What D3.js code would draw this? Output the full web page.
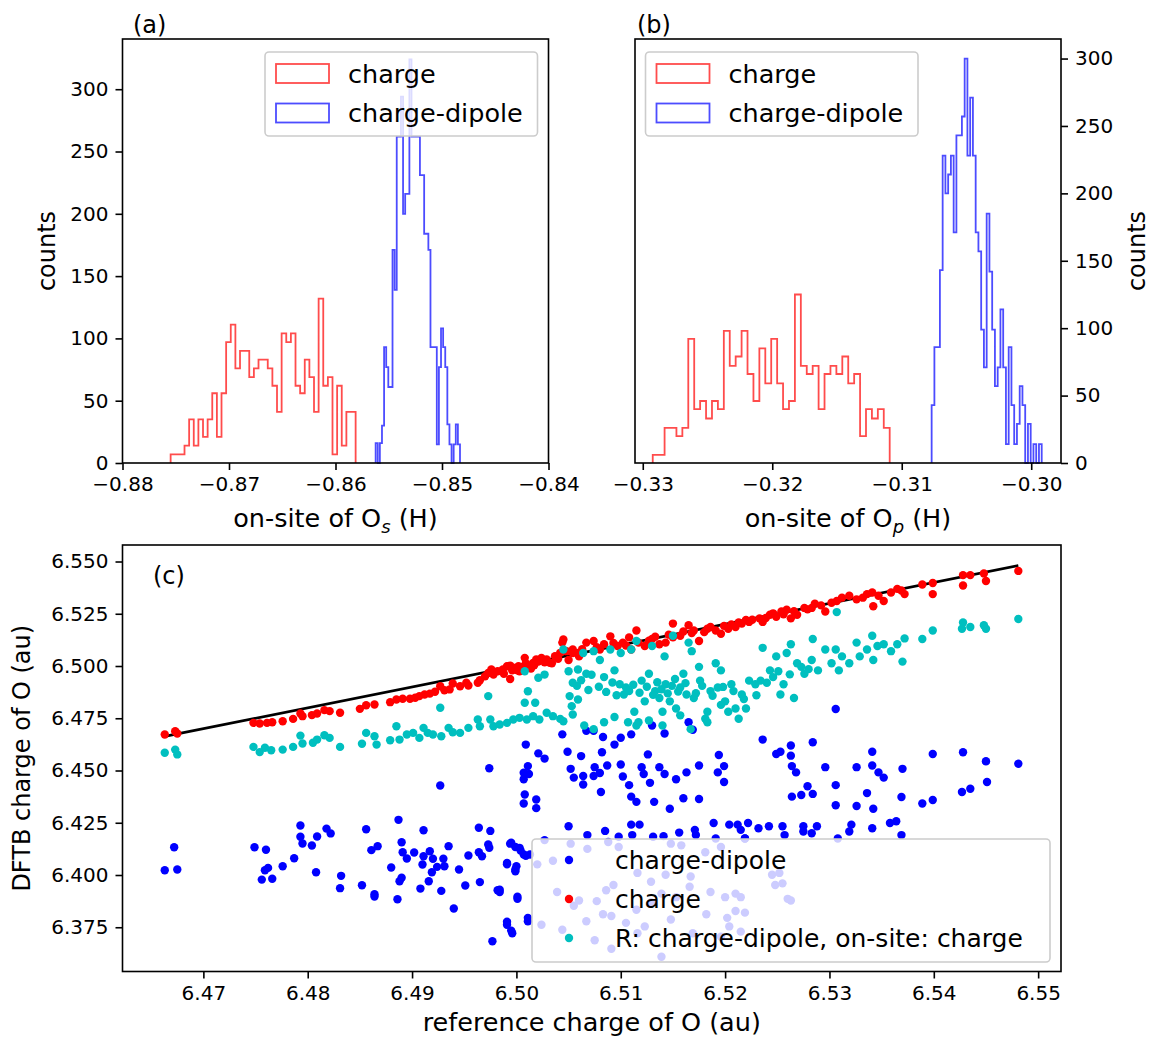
<!DOCTYPE html>
<html>
<head>
<meta charset="utf-8">
<script src="https://cdn.jsdelivr.net/npm/d3@7/dist/d3.min.js"></script>
<style>
    body { margin: 0; background: #fff; }
    svg text { font-family: "DejaVu Sans", sans-serif; fill: #000; }
    .tick text { font-size: 20px; }
    .tick line { stroke: #000; stroke-width: 1.6; }
</style>
</head>
<body>
<div id="chart"></div>
<script>

// ---- histogram data (40 bins per series) ----
var chargeCountsS = [7, 7, 7, 14, 35, 14, 35, 21, 35, 56, 21, 56, 97, 111, 76, 90, 90, 69, 76, 83,
    83, 76, 62, 41, 104, 97, 104, 62, 56, 83, 69, 41, 132, 62, 69, 7, 62, 14, 41, 41];
var dipoleCountsS = [16, 0, 16, 30, 93, 77, 61, 61, 171, 139, 262, 262, 294, 200, 216, 216, 324, 262, 262, 262,
    262, 231, 231, 184, 184, 171, 93, 93, 93, 15, 77, 108, 93, 77, 31, 15, 0, 15, 31, 15];
var chargeRangeS = [-0.87548, -0.85811];
var dipoleRangeS = [-0.85623, -0.84831];

var chargeCountsP = [6, 6, 26, 26, 20, 26, 92, 40, 46, 33, 46, 40, 98, 72, 79, 98, 66, 46, 85, 59,
    92, 59, 40, 46, 125, 72, 66, 72, 40, 66, 72, 66, 79, 59, 66, 20, 40, 33, 40, 26];
var dipoleCountsP = [43, 86, 86, 143, 228, 200, 214, 228, 171, 243, 243, 257, 300, 228, 271, 228, 171, 157, 99, 71,
    185, 142, 99, 57, 71, 114, 71, 14, 86, 43, 14, 29, 57, 43, 0, 29, 0, 14, 0, 14];
var chargeRangeP = [-0.32923, -0.31093];
var dipoleRangeP = [-0.30769, -0.29919];

var countTicks = [0, 50, 100, 150, 200, 250, 300];
var onsiteTicksS = [-0.88, -0.87, -0.86, -0.85, -0.84];
var onsiteTicksP = [-0.33, -0.32, -0.31, -0.30];

// ---- scatter data: [reference charge, DFTB charge] ----
var dipolePts = [
    [6.4663,6.4023],[6.4672,6.4133],[6.4675,6.4026],[6.4749,6.4133],[6.4760,6.4121],[6.4756,6.3978],[6.4759,6.4023],
    [6.4762,6.4034],[6.4766,6.3982],[6.4776,6.4042],[6.4787,6.4080],[6.4793,6.4237],[6.4793,6.4183],[6.4795,6.4151],
    [6.4804,6.4141],[6.4808,6.4013],[6.4809,6.4184],[6.4818,6.4222],[6.4822,6.4199],[6.4831,6.3937],[6.4832,6.3996],
    [6.4852,6.3951],[6.4856,6.4219],[6.4861,6.4119],[6.4867,6.4138],[6.4864,6.3908],[6.4864,6.3897],[6.4880,6.4036],
    [6.4887,6.4264],[6.4886,6.3884],[6.4890,6.4157],[6.4891,6.4109],[6.4895,6.4079],[6.4890,6.3987],[6.4888,6.3970],
    [6.4902,6.4108],[6.4908,6.3935],[6.4910,6.4050],[6.4911,6.4090],[6.4911,6.4214],[6.4916,6.3970],[6.4917,6.4114],
    [6.4919,6.4013],[6.4920,6.4078],[6.4924,6.4039],[6.4928,6.3924],[6.4930,6.4078],[6.4931,6.4042],[6.4935,6.4138],
    [6.4940,6.3840],[6.4945,6.4026],[6.4951,6.3950],[6.4954,6.4093],[6.4964,6.4226],[6.4964,6.4109],[6.4967,6.4090],
    [6.4965,6.3966],[6.4973,6.4146],[6.4974,6.4130],[6.4975,6.4211],[6.4977,6.3683],[6.4982,6.3927],[6.4984,6.3930],
    [6.4991,6.3776],[6.4991,6.4058],[6.4995,6.3734],[6.4995,6.4154],[6.5000,6.4042],[6.4999,6.4026],[6.5001,6.3896],
    [6.5003,6.4130],[6.5007,6.4098],[6.5011,6.3795],[6.5013,6.4098],[6.4927,6.4428],[6.4974,6.4511],[6.5007,6.4489],
    [6.5011,6.4521],[6.5008,6.4385],[6.5019,6.4361],
    [6.5009,6.4624],[6.5021,6.4582],[6.5027,6.4557],[6.5007,6.4458],[6.5012,6.4483],[6.5007,6.4342],[6.5019,6.4320],
    [6.5044,6.4673],[6.5049,6.4590],[6.5062,6.4569],[6.5052,6.4508],[6.5055,6.4466],[6.5064,6.4474],[6.5064,6.4433],
    [6.5067,6.4690],[6.5074,6.4690],[6.5075,6.4516],[6.5074,6.4474],[6.5080,6.4488],[6.5087,6.4524],[6.5081,6.4397],
    [6.5083,6.4660],[6.5082,6.4587],[6.5094,6.4624],[6.5100,6.4529],[6.5102,6.4471],[6.5100,6.4657],[6.5108,6.4430],
    [6.5110,6.4375],[6.5110,6.4673],[6.5115,6.4350],[6.5120,6.4516],[6.5122,6.4483],[6.5126,6.4577],[6.5128,6.4441],
    [6.5130,6.4715],[6.5132,6.4350],[6.5137,6.4516],[6.5142,6.4677],[6.5142,6.4483],[6.5147,6.4317],[6.5153,6.4458],
    [6.5160,6.4367],[6.5163,6.4491],[6.5165,6.4731],[6.5169,6.4695],[6.5175,6.4524],[6.5175,6.4364],[6.5194,6.4574],
    [6.5199,6.4521],[6.5193,6.4491],[6.5199,6.4445],[6.5236,6.4648],[6.5249,6.4579],[6.5253,6.4590],[6.5263,6.4620],
    [6.5263,6.4571],[6.5264,6.4521],[6.5268,6.4491],[6.5264,6.4375],[6.5284,6.4635],[6.5296,6.4516],[6.5279,6.4425],
    [6.5284,6.4388],[6.5306,6.4794],[6.5306,6.4430],[6.5326,6.4516],[6.5336,6.4392],[6.5341,6.4590],[6.5341,6.4524],
    [6.5347,6.4491],[6.5352,6.4466],[6.5370,6.4508],[6.5369,6.4373],[6.5389,6.4342],[6.5399,6.4359],[6.5399,6.4579],
    [6.5428,6.4587],[6.5427,6.4397],[6.5435,6.4413],[6.5450,6.4544],[6.5451,6.4445],[6.5481,6.4532],[6.5326,6.4330],
    [6.5306,6.4334],[6.5342,6.4317],[6.5273,6.4383],
    [6.5050,6.4233],[6.5068,6.4191],[6.5085,6.4211],[6.5098,6.4183],[6.5110,6.4241],[6.5118,6.4241],[6.5111,6.4191],
    [6.5131,6.4183],[6.5141,6.4186],[6.5156,6.4203],[6.5171,6.4216],[6.5172,6.4191],[6.5189,6.4249],[6.5191,6.4175],
    [6.5204,6.4241],[6.5212,6.4241],[6.5215,6.4216],[6.5219,6.4175],[6.5222,6.4249],[6.5232,6.4224],[6.5242,6.4233],
    [6.5255,6.4233],[6.5257,6.4191],[6.5275,6.4233],[6.5275,6.4208],[6.5283,6.4200],[6.5288,6.4233],[6.5308,6.4175],
    [6.5319,6.4208],[6.5321,6.4241],[6.5341,6.4224],[6.5358,6.4249],[6.5364,6.4257],[6.5369,6.4191],
    [6.4994,6.4150],[6.4999,6.4134],[6.5004,6.4117],[6.5009,6.4092],[6.4991,6.4051],[6.4999,6.4018],[6.4984,6.3919],
    [6.5001,6.3886],[6.5011,6.3779],[6.4991,6.3762],[6.4996,6.3721],
    [6.5020,6.4051],[6.5027,6.4167],[6.5035,6.4068],[6.5052,6.4150],[6.5068,6.4125],[6.5088,6.4158],[6.5098,6.4134],
    [6.5116,6.4010],[6.5129,6.3968],[6.5143,6.4001],[6.5148,6.4150],[6.5158,6.4142],[6.5167,6.3993],[6.5181,6.4109],
    [6.5196,6.4134],[6.5219,6.4175],[6.5245,6.4001],[6.5252,6.4010],[6.5255,6.3960],[6.5248,6.3952],[6.5039,6.3919],
    [6.5060,6.3878],[6.5077,6.3875],[6.5093,6.3952],[6.5086,6.3927],[6.5115,6.3834],[6.5129,6.3869],[6.5139,6.3911],
    [6.5153,6.3894],[6.5166,6.3944],[6.5186,6.3919],[6.5200,6.3894],[6.5210,6.3911],[6.5215,6.3894],[6.5219,6.3820],
    [6.5210,6.3828],[6.5182,6.3812],[6.5148,6.3787],[6.5123,6.3754],[6.5116,6.3721],[6.5105,6.3771],[6.5091,6.3804],
    [6.5083,6.3812],[6.5067,6.3779],[6.5055,6.3853],[6.5044,6.3738],[6.5024,6.3762],[6.5075,6.3688],[6.5091,6.3647],
    [6.5139,6.3609],[6.5169,6.3721],[6.5202,6.3795],[6.5204,6.3754],[6.5263,6.3878],[6.5260,6.3886],[6.5215,6.3729],
    [6.5196,6.3705]
];

var chargePts = [
    [6.4663,6.4672],[6.4673,6.4688],[6.4675,6.4677],[6.4748,6.4728],[6.4754,6.4725],[6.4761,6.4728],[6.4766,6.4731],
    [6.4776,6.4736],[6.4786,6.4747],[6.4793,6.4773],[6.4795,6.4760],[6.4804,6.4765],[6.4809,6.4773],[6.4816,6.4789],
    [6.4821,6.4784],[6.4831,6.4776],[6.4850,6.4795],[6.4856,6.4812],[6.4864,6.4816],[6.4879,6.4827],[6.4885,6.4840],
    [6.4891,6.4843],[6.4898,6.4843],[6.4903,6.4848],[6.4907,6.4856],[6.4912,6.4864],[6.4917,6.4868],[6.4922,6.4877],
    [6.4927,6.4903],[6.4931,6.4884],[6.4936,6.4888],[6.4939,6.4916],[6.4946,6.4903],[6.4952,6.4920],[6.4954,6.4907],
    [6.4963,6.4920],[6.4965,6.4932],[6.4970,6.4951],[6.4973,6.4967],[6.4976,6.4983],[6.4978,6.4959],[6.4982,6.4975],
    [6.4987,6.4983],[6.4991,6.4999],[6.4994,6.5002],[6.4998,6.4991],[6.5002,6.4999],[6.5003,6.4975],[6.5008,6.5039],
    [6.5011,6.4999],[6.5016,6.5015],[6.5019,6.5031],[6.5024,6.5039],[6.5029,6.5031],[6.5032,6.5015],[6.5037,6.5047],
    [6.5042,6.5063],[6.5045,6.5127],[6.5048,6.5071],[6.5054,6.5079],[6.5059,6.5063],
    [6.4988,6.4963],[6.4994,6.4938],[6.5001,6.4979],[6.5009,6.5013],[6.5014,6.4988],[6.5021,6.5021],[6.5024,6.5029],
    [6.5034,6.5013],[6.5044,6.5112],[6.5050,6.5029],[6.5054,6.5062],[6.5060,6.5046],
    [6.5067,6.5112],[6.5074,6.5120],[6.5080,6.5079],[6.5084,6.5104],[6.5090,6.5142],[6.5097,6.5096],[6.5102,6.5112],
    [6.5108,6.5137],[6.5110,6.5079],[6.5115,6.5170],[6.5117,6.5112],[6.5123,6.5096],[6.5130,6.5129],[6.5137,6.5104],
    [6.5143,6.5112],[6.5150,6.5203],[6.5150,6.5137],[6.5157,6.5145],[6.5165,6.5195],[6.5170,6.5170],[6.5175,6.5120],
    [6.5180,6.5162],[6.5186,6.5187],[6.5191,6.5170],[6.5196,6.5154],[6.5203,6.5178],[6.5210,6.5187],[6.5216,6.5203],
    [6.5220,6.5220],[6.5223,6.5211],[6.5233,6.5228],[6.5236,6.5211],[6.5243,6.5245],[6.5249,6.5236],[6.5254,6.5261],
    [6.5259,6.5269],[6.5263,6.5228],[6.5269,6.5245],[6.5276,6.5278],[6.5283,6.5278],[6.5286,6.5298],[6.5296,6.5261],
    [6.5302,6.5303],[6.5307,6.5311],[6.5312,6.5327],[6.5319,6.5336],[6.5326,6.5319],[6.5332,6.5327],[6.5336,6.5344],
    [6.5341,6.5352],[6.5342,6.5286],[6.5347,6.5336],[6.5352,6.5311],[6.5359,6.5352],[6.5365,6.5369],[6.5369,6.5361],
    [6.5372,6.5344],[6.5389,6.5390],[6.5399,6.5344],[6.5399,6.5397],[6.5428,6.5435],[6.5428,6.5385],[6.5435,6.5435],
    [6.5448,6.5443],[6.5450,6.5407],[6.5481,6.5455],
    [6.5127,6.5121],[6.5133,6.5140],[6.5146,6.5150],[6.5160,6.5165],[6.5168,6.5158],[6.5183,6.5178],[6.5199,6.5192],
    [6.5206,6.5199],[6.5213,6.5208],[6.5226,6.5221],[6.5239,6.5230],[6.5246,6.5252],[6.5256,6.5248],[6.5266,6.5262],
    [6.5279,6.5271],[6.5292,6.5290],[6.5105,6.5098],[6.5093,6.5110],[6.5077,6.5090],[6.5063,6.5080],[6.5040,6.5035],
    [6.5027,6.5018],[6.5017,6.5004],[6.5006,6.4996],[6.4996,6.4979]
];

var mixedPts = [
    [6.4663,6.4585],[6.4673,6.4600],[6.4675,6.4577],[6.4748,6.4613],[6.4754,6.4588],[6.4759,6.4609],[6.4765,6.4597],
    [6.4776,6.4600],[6.4786,6.4613],[6.4793,6.4667],[6.4795,6.4629],[6.4805,6.4633],[6.4809,6.4648],[6.4816,6.4669],
    [6.4821,6.4656],[6.4831,6.4613],[6.4852,6.4628],[6.4856,6.4680],[6.4864,6.4664],[6.4866,6.4624],[6.4879,6.4645],
    [6.4885,6.4712],[6.4888,6.4648],[6.4895,6.4672],[6.4901,6.4680],[6.4907,6.4656],[6.4911,6.4704],[6.4915,6.4680],
    [6.4920,6.4672],[6.4927,6.4800],[6.4928,6.4664],[6.4935,6.4704],[6.4939,6.4683],[6.4946,6.4680],[6.4954,6.4704],
    [6.4963,6.4744],[6.4965,6.4712],[6.4973,6.4856],[6.4975,6.4744],[6.4978,6.4712],[6.4984,6.4720],[6.4991,6.4728],
    [6.4997,6.4744],[6.5003,6.4752],[6.5008,6.4824],[6.5008,6.4975],[6.5010,6.4744],[6.5011,6.4879],[6.5016,6.4760],
    [6.5018,6.4824],[6.5021,6.4944],[6.5022,6.4744],[6.5027,6.4959],[6.5029,6.4776],[6.5035,6.4760],[6.5042,6.4747],
    [6.5045,6.4736],[6.5045,6.5079],[6.5050,6.4975],[6.5051,6.4856],[6.5053,6.4808],[6.5054,6.4768],[6.5054,6.4920],
    [6.5059,6.4983],[6.5059,6.4840],
    [6.5064,6.5062],[6.5067,6.4963],[6.5074,6.5071],[6.5080,6.5029],[6.5084,6.4947],[6.5090,6.5079],[6.5094,6.4979],
    [6.5099,6.4913],[6.5100,6.5062],[6.5103,6.4864],[6.5108,6.4880],[6.5110,6.5079],[6.5113,6.4781],[6.5115,6.5120],
    [6.5117,6.4731],[6.5120,6.4930],[6.5123,6.4831],[6.5127,6.4963],[6.5130,6.5096],[6.5133,6.4880],[6.5137,6.4847],
    [6.5140,6.4781],[6.5142,6.5046],[6.5143,6.4913],[6.5147,6.4831],[6.5150,6.5145],[6.5152,6.4938],[6.5153,6.4797],
    [6.5157,6.4897],[6.5160,6.4963],[6.5163,6.4864],[6.5165,6.5112],[6.5168,6.5071],[6.5170,6.4847],[6.5175,6.4996],
    [6.5176,6.4930],[6.5181,6.4748],[6.5183,6.4781],[6.5186,6.4880],[6.5191,6.5013],[6.5193,6.4897],[6.5196,6.4979],
    [6.5200,6.4831],[6.5203,6.4781],[6.5206,6.4913],[6.5213,6.4748],[6.5216,6.4864],[6.5220,6.4797],[6.5223,6.4930],
    [6.5229,6.4913],[6.5234,6.4930],[6.5236,6.5087],[6.5243,6.4979],[6.5246,6.4947],[6.5249,6.5046],[6.5253,6.4864],
    [6.5256,6.4913],[6.5259,6.5062],[6.5263,6.5104],[6.5266,6.4847],[6.5269,6.5013],[6.5273,6.4996],[6.5276,6.4963],
    [6.5283,6.5029],[6.5284,6.5129],[6.5289,6.4979],[6.5296,6.5079],[6.5302,6.5013],[6.5306,6.5079],[6.5309,6.4979],
    [6.5312,6.5046],[6.5319,6.5013],[6.5326,6.5112],[6.5329,6.5046],[6.5336,6.5079],[6.5341,6.5145],[6.5342,6.5029],
    [6.5346,6.5096],[6.5352,6.5104],[6.5359,6.5071],[6.5365,6.5104],[6.5370,6.5021],[6.5372,6.5132],[6.5389,6.5129],
    [6.5399,6.5170],[6.5427,6.5178],[6.5428,6.5208],[6.5435,6.5187],[6.5448,6.5195],[6.5450,6.5178],[6.5481,6.5225],
    [6.5307,6.5258],
    [6.5065,6.4715],[6.5074,6.4698],[6.5084,6.4731],[6.5094,6.4756],[6.5107,6.4731],[6.5115,6.4715],[6.5127,6.4739],
    [6.5140,6.4715],[6.5157,6.4764],[6.5167,6.4698],[6.5183,6.4731],[6.5196,6.4814],[6.5210,6.4797],
    [6.5058,6.4905],[6.5062,6.4932],[6.5069,6.4885],[6.5072,6.4958],[6.5079,6.4901],[6.5086,6.4876],[6.5092,6.4921],
    [6.5096,6.4860],[6.5105,6.4897],[6.5112,6.4910],[6.5118,6.4872],[6.5125,6.4901],[6.5131,6.4862],[6.5135,6.4922],
    [6.5139,6.4889],[6.5145,6.4869],[6.5149,6.4905],[6.5155,6.4878],[6.5162,6.4918],[6.5172,6.4870],[6.5178,6.4905],
    [6.5188,6.4858],[6.5198,6.4900],[6.5208,6.4880],[6.5218,6.4842],[6.5230,6.4860],[6.5240,6.4920],[6.5251,6.4975],
    [6.5262,6.4960],[6.5280,6.4985]
];

var refLine = [6.4663, 6.5481];
var chargeXTicks = [6.47, 6.48, 6.49, 6.50, 6.51, 6.52, 6.53, 6.54, 6.55];
var chargeYTicks = [6.375, 6.400, 6.425, 6.450, 6.475, 6.500, 6.525, 6.550];

var histLabels = ["charge", "charge-dipole"];
var scatterLabels = ["charge-dipole", "charge", "R: charge-dipole, on-site: charge"];

// ---- svg ----
var svg = d3.select("#chart").append("svg")
    .attr("width", 1150)
    .attr("height", 1040);

svg.append("rect").attr("width", 1150).attr("height", 1040).attr("fill", "#fff");

var fmtMinus = function (f) {
    return function (d) { return d3.format(f)(d).replace("-", "\u2212"); };
};

function frame(box) {
    svg.append("rect")
        .attr("x", box.left).attr("y", box.top)
        .attr("width", box.right - box.left).attr("height", box.bottom - box.top)
        .attr("fill", "none").attr("stroke", "#000").attr("stroke-width", 1.6);
}

function styleAxis(g) {
    g.select(".domain").remove();
}

function stepPath(counts, range, x, y) {
    var n = counts.length;
    var w = (range[1] - range[0]) / n;
    var pts = [[range[0], 0]];
    counts.forEach(function (c, i) {
        pts.push([range[0] + i * w, c]);
        pts.push([range[0] + (i + 1) * w, c]);
    });
    pts.push([range[1], 0]);
    return d3.line().x(function (d) { return x(d[0]); }).y(function (d) { return y(d[1]); })(pts);
}

function legendBox(x0, y0, x1, y1) {
    svg.append("rect")
        .attr("x", x0).attr("y", y0)
        .attr("width", x1 - x0).attr("height", y1 - y0)
        .attr("rx", 4).attr("ry", 4)
        .attr("fill", "#fff").attr("fill-opacity", 0.8)
        .attr("stroke", "#cccccc").attr("stroke-width", 1.6);
}

function histPanel(box, xDomain, xTicks, yMax, series, rightAxis, tag, sub) {
    var x = d3.scaleLinear().domain(xDomain).range([box.left, box.right]);
    var y = d3.scaleLinear().domain([0, yMax]).range([box.bottom, box.top]);

    series.forEach(function (s) {
        svg.append("path")
            .attr("d", stepPath(s.counts, s.range, x, y))
            .attr("fill", "none")
            .attr("stroke", s.color)
            .attr("stroke-opacity", 0.7)
            .attr("stroke-width", 1.8);
    });

    svg.append("g")
        .attr("transform", "translate(0," + box.bottom + ")")
        .call(d3.axisBottom(x).tickValues(xTicks).tickFormat(fmtMinus(".2f"))
            .tickSize(7).tickPadding(7))
        .call(styleAxis);

    var yAxis = rightAxis ? d3.axisRight(y) : d3.axisLeft(y);
    svg.append("g")
        .attr("transform", "translate(" + (rightAxis ? box.right : box.left) + ",0)")
        .call(yAxis.tickValues(countTicks).tickFormat(d3.format("d")).tickSize(7).tickPadding(7))
        .call(styleAxis);

    frame(box);

    // axis labels
    var xl = svg.append("text")
        .attr("x", (box.left + box.right) / 2).attr("y", 527)
        .attr("text-anchor", "middle").style("font-size", "25.5px");
    xl.append("tspan").text("on-site of O");
    xl.append("tspan").attr("dy", 6).style("font-size", "18px").style("font-style", "italic").text(sub);
    xl.append("tspan").attr("dy", -6).text(" (H)");

    var ly = rightAxis ? 1145 : 55;
    svg.append("text")
        .attr("transform", "translate(" + ly + "," + ((box.top + box.bottom) / 2) + ") rotate(-90)")
        .attr("text-anchor", "middle").style("font-size", "24px")
        .text("counts");

    svg.append("text").attr("x", tag.x).attr("y", 33)
        .style("font-size", "24px").text(tag.text);
}

// ---- panel (a) ----
var boxA = { left: 122.5, right: 548.5, top: 39, bottom: 463 };
histPanel(boxA, [-0.88, -0.84], onsiteTicksS, 340.3, [
    { counts: chargeCountsS, range: chargeRangeS, color: "red" },
    { counts: dipoleCountsS, range: dipoleRangeS, color: "blue" }
], false, { x: 133, text: "(a)" }, "s");

// ---- panel (b) ----
var boxB = { left: 635, right: 1061, top: 39, bottom: 463 };
histPanel(boxB, [-0.3306, -0.2977], onsiteTicksP, 314.5, [
    { counts: chargeCountsP, range: chargeRangeP, color: "red" },
    { counts: dipoleCountsP, range: dipoleRangeP, color: "blue" }
], true, { x: 637, text: "(b)" }, "p");

// hist legends
[[265, 537.5], [645.5, 918]].forEach(function (lb) {
    legendBox(lb[0], 52, lb[1], 136);
    ["red", "blue"].forEach(function (c, i) {
        var cy = 73.5 + i * 39.5;
        svg.append("rect")
            .attr("x", lb[0] + 11).attr("y", cy - 9.5)
            .attr("width", 53).attr("height", 19)
            .attr("fill", "none").attr("stroke", c)
            .attr("stroke-opacity", 0.7).attr("stroke-width", 1.8);
        svg.append("text")
            .attr("x", lb[0] + 83).attr("y", cy + 9)
            .style("font-size", "25.5px")
            .text(histLabels[i]);
    });
});

// ---- panel (c) ----
var boxC = { left: 122.5, right: 1061, top: 545, bottom: 971.5 };
var xC = d3.scaleLinear().domain([6.46225, 6.55219]).range([boxC.left, boxC.right]);
var yC = d3.scaleLinear().domain([6.35383, 6.5579]).range([boxC.bottom, boxC.top]);

svg.append("defs").append("clipPath").attr("id", "clipC")
    .append("rect")
    .attr("x", boxC.left).attr("y", boxC.top)
    .attr("width", boxC.right - boxC.left).attr("height", boxC.bottom - boxC.top);

var plotC = svg.append("g").attr("clip-path", "url(#clipC)");

plotC.append("line")
    .attr("x1", xC(refLine[0])).attr("y1", yC(refLine[0]))
    .attr("x2", xC(refLine[1])).attr("y2", yC(refLine[1]))
    .attr("stroke", "#000").attr("stroke-width", 2.7);

var scatterSeries = [
    { pts: dipolePts, color: "#0000ff" },
    { pts: chargePts, color: "#ff0000" },
    { pts: mixedPts, color: "#00bfbf" }
];

scatterSeries.forEach(function (s) {
    plotC.selectAll(null)
        .data(s.pts)
        .enter().append("circle")
        .attr("cx", function (d) { return xC(d[0]); })
        .attr("cy", function (d) { return yC(d[1]); })
        .attr("r", 4.2)
        .attr("fill", s.color);
});

svg.append("g")
    .attr("transform", "translate(0," + boxC.bottom + ")")
    .call(d3.axisBottom(xC).tickValues(chargeXTicks).tickFormat(d3.format(".2f"))
        .tickSize(7).tickPadding(7))
    .call(styleAxis);

svg.append("g")
    .attr("transform", "translate(" + boxC.left + ",0)")
    .call(d3.axisLeft(yC).tickValues(chargeYTicks).tickFormat(d3.format(".3f"))
        .tickSize(7).tickPadding(7))
    .call(styleAxis);

frame(boxC);

svg.append("text")
    .attr("x", (boxC.left + boxC.right) / 2).attr("y", 1031)
    .attr("text-anchor", "middle").style("font-size", "25.5px")
    .text("reference charge of O (au)");

svg.append("text")
    .attr("transform", "translate(30," + ((boxC.top + boxC.bottom) / 2) + ") rotate(-90)")
    .attr("text-anchor", "middle").style("font-size", "24px")
    .text("DFTB charge of O (au)");

svg.append("text").attr("x", 153).attr("y", 584)
    .style("font-size", "24px").text("(c)");

// scatter legend
legendBox(532, 839, 1050, 962);
scatterSeries.forEach(function (s, i) {
    var cy = 860 + i * 39;
    svg.append("circle").attr("cx", 569).attr("cy", cy).attr("r", 4.2).attr("fill", s.color);
    svg.append("text")
        .attr("x", 615).attr("y", cy + 9)
        .style("font-size", "25px")
        .text(scatterLabels[i]);
});

</script>
</body>
</html>
